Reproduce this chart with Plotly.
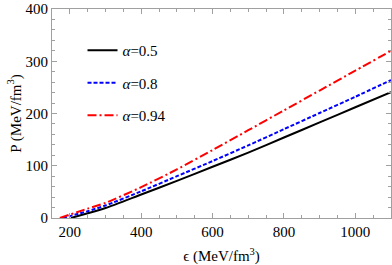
import plotly.graph_objects as go

eps_05 = [203, 250, 300, 400, 500, 600, 700, 800, 900, 1000, 1100]
p_05 = [0, 9, 19, 45, 71, 98, 125, 154, 183, 212, 241]

eps_08 = [180, 250, 300, 400, 500, 600, 700, 800, 900, 1000, 1100]
p_08 = [0, 13, 24, 51, 80, 109, 139, 170, 201, 232, 264]

eps_094 = [172, 250, 300, 400, 500, 600, 700, 800, 900, 1000, 1100]
p_094 = [0, 18, 29, 59, 93, 130, 168, 206, 244, 282, 320]

x_ticks = [200, 400, 600, 800, 1000]
y_ticks = [0, 100, 200, 300, 400]

FONT = "Liberation Serif"
frame = "#a0a0a0"

fig = go.Figure()
fig.add_trace(go.Scatter(x=eps_05, y=p_05, mode="lines", name="<i>α</i>=0.5",
                         line=dict(color="black", width=2, shape="spline", smoothing=0.6), legendgroup="a"))
fig.add_trace(go.Scatter(x=eps_08, y=p_08, mode="lines", name="<i>α</i>=0.8",
                         line=dict(color="#0000ff", width=2, dash="4px,2px", shape="spline", smoothing=0.6), legendgroup="b"))
fig.add_trace(go.Scatter(x=eps_094, y=p_094, mode="lines", name="<i>α</i>=0.94",
                         line=dict(color="#ff0000", width=2, dash="9px,3px,2px,3px", shape="spline", smoothing=0.6), legendgroup="c"))

axis_common = dict(showline=True, linecolor=frame, linewidth=1, mirror="ticks",
                   ticks="inside", tickcolor=frame, ticklen=5, tickwidth=1,
                   showgrid=False, zeroline=False, automargin=False,
                   tickfont=dict(family=FONT, size=15, color="black"))

fig.update_xaxes(range=[150, 1100], tickvals=x_ticks,
                 minor=dict(dtick=50, ticks="inside", ticklen=3, tickcolor=frame, showgrid=False),
                 title=dict(text="ϵ (MeV/fm<sup>3</sup>)", font=dict(family=FONT, size=15, color="black"), standoff=12),
                 **axis_common)
fig.update_yaxes(range=[0, 400], tickvals=y_ticks,
                 minor=dict(dtick=20, ticks="inside", ticklen=3, tickcolor=frame, showgrid=False),
                 title=dict(text="P (MeV/fm<sup>3</sup>)", font=dict(family=FONT, size=15, color="black"), standoff=0),
                 **axis_common)

fig.update_layout(
    width=392, height=265,
    margin=dict(l=52, r=1, t=9, b=47),
    paper_bgcolor="white", plot_bgcolor="white",
    font=dict(family=FONT, size=15, color="black"),
    legend=dict(x=0.09, y=0.88, xanchor="left", yanchor="top",
                traceorder="grouped", tracegroupgap=10,
                bgcolor="rgba(0,0,0,0)", font=dict(family=FONT, size=15)),
)

fig.write_html("out.html", config={"displayModeBar": False},
               post_script="document.body.style.margin='0';")
